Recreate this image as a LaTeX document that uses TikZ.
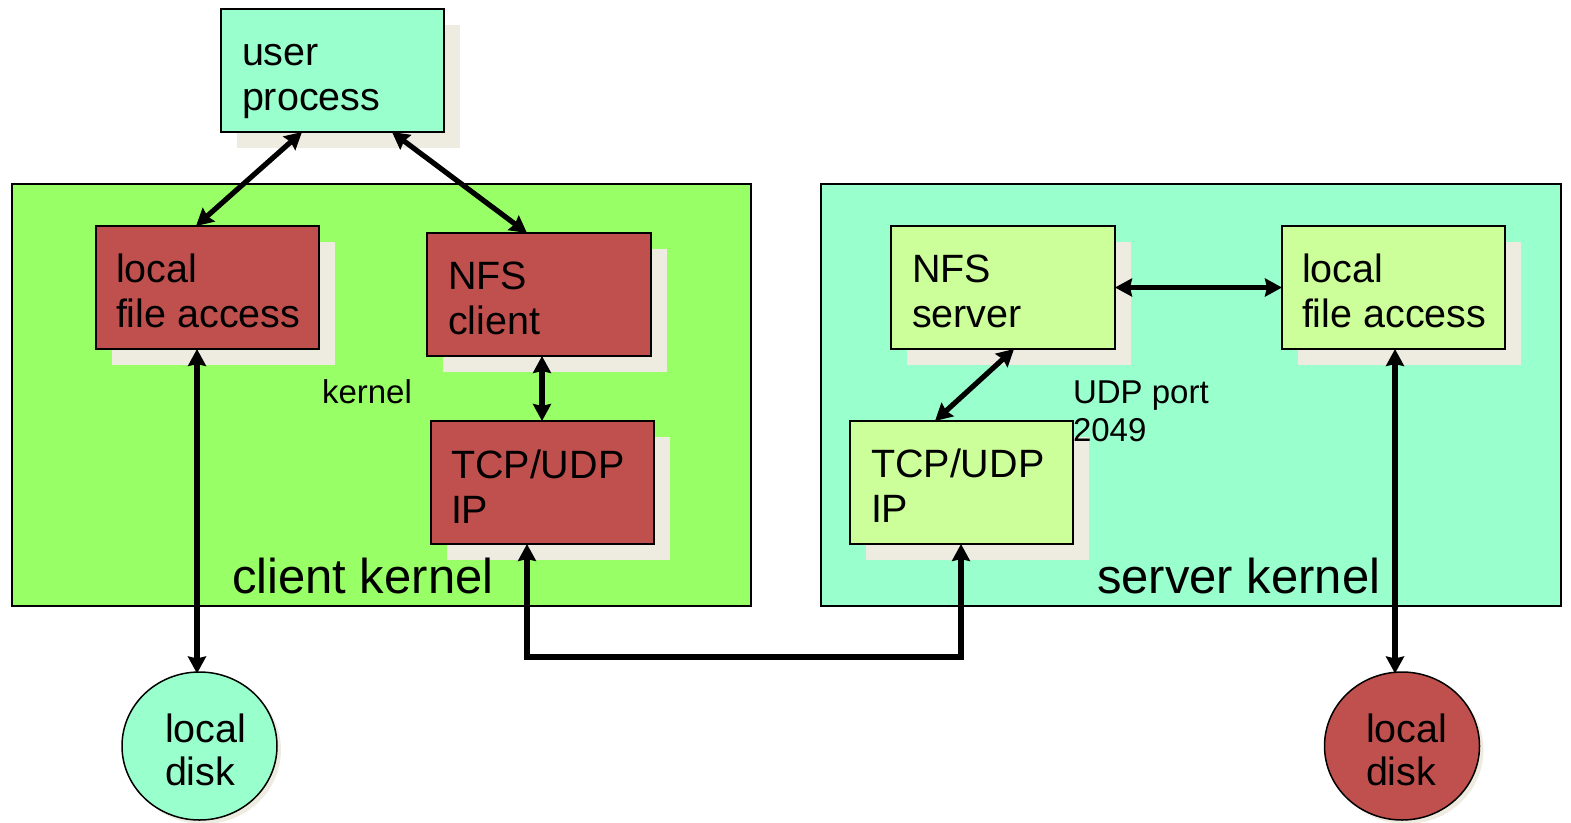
\documentclass[tikz,border=0pt]{standalone}
\usepackage{fontspec}
\setmainfont{Liberation Sans}
\usetikzlibrary{arrows.meta,shadows,calc,shapes.geometric}
\definecolor{shadowc}{HTML}{EEECE1}
\definecolor{aqua}{HTML}{99FFCC}
\definecolor{lime}{HTML}{99FF66}
\definecolor{brick}{HTML}{C0504D}
\definecolor{pale}{HTML}{CCFF99}
\begin{document}
\begin{tikzpicture}[x=1pt,y=-1pt,
  box/.style={draw=black, line width=1.8pt, inner sep=0pt, outer sep=0pt, anchor=north west,
    minimum width=223pt, minimum height=123pt,
    general shadow={shadow xshift=16pt, shadow yshift=-16pt, fill=shadowc}},
  kbox/.style={draw=black, line width=1.8pt, inner sep=0pt, outer sep=0pt, anchor=north west,
    minimum width=739pt, minimum height=422pt},
  disk/.style={ellipse, draw=black, line width=1.5pt, inner sep=0pt, outer sep=0pt,
    minimum width=155pt, minimum height=148pt,
    general shadow={shadow xshift=4pt, shadow yshift=-4pt, fill=shadowc}},
  lbl/.style={anchor=base west, inner sep=0pt, outer sep=0pt, font=\fontsize{39.5}{45}\selectfont},
  small/.style={anchor=base west, inner sep=0pt, outer sep=0pt, font=\fontsize{33}{38}\selectfont},
  big/.style={anchor=base west, inner sep=0pt, outer sep=0pt, font=\fontsize{49}{56}\selectfont},
  arr/.style={line width=5.2pt, {Stealth[length=17pt,width=18pt,inset=2pt]}-{Stealth[length=17pt,width=18pt,inset=2pt]}},
]
\useasboundingbox (0,0) rectangle (1571,822);
% kernels
\node[kbox, fill=lime] (ck) at (12,184) {};
\node[kbox, fill=aqua, minimum width=740pt] (sk) at (821,184) {};
% boxes
\node[box, fill=aqua] (up) at (221,9) {};
\node[box, fill=brick] (clfa) at (96,226) {};
\node[box, fill=brick, minimum width=224pt] (nfsc) at (427,233) {};
\node[box, fill=brick] (ctcp) at (431,421) {};
\node[box, fill=pale, minimum width=224pt] (nfss) at (891,226) {};
\node[box, fill=pale] (slfa) at (1282,226) {};
\node[box, fill=pale] (stcp) at (850,421) {};
% disks
\node[disk, fill=aqua] (cdisk) at (199.5,746) {};
\node[disk, fill=brick] (sdisk) at (1402,746) {};
% arrows
\draw[arr] ($(up.south west)+(81,0)$) -- ($(clfa.north west)+(100,0)$);
\draw[arr] ($(up.south west)+(171,0)$) -- ($(nfsc.north west)+(100,0)$);
\draw[arr] ($(nfsc.south west)+(115,0)$) -- ($(ctcp.north west)+(111,0)$);
\draw[arr] ($(clfa.south west)+(101,0)$) -- ($(cdisk.north)+(-2.5,1.5)$);
\draw[arr] ($(ctcp.south west)+(96,0)$) -- ++(0,113) -| ($(stcp.south west)+(111,0)$);
\draw[arr] ($(nfss.south west)+(123,0)$) -- ($(stcp.north west)+(85,0)$);
\draw[arr] (nfss.east) -- (slfa.west);
\draw[arr] ($(slfa.south west)+(113,0)$) -- ($(sdisk.north)+(-7,1.5)$);
% texts
\node[lbl] (tup1) at (242,65) {user};
\node[lbl] (tup2) at (242,110) {process};
\node[lbl] (tcl1) at (116,282) {local};
\node[lbl] (tcl2) at (116,327) {file access};
\node[lbl] (tnc1) at (448,289) {NFS};
\node[lbl] (tnc2) at (448,334) {client};
\node[lbl] (ttc1) at (451,478) {TCP/UDP};
\node[lbl] (ttc2) at (451,523) {IP};
\node[lbl] (tns1) at (912,282) {NFS};
\node[lbl] (tns2) at (912,327) {server};
\node[lbl] (tsl1) at (1302,282) {local};
\node[lbl] (tsl2) at (1302,327) {file access};
\node[lbl] (tst1) at (871,477) {TCP/UDP};
\node[lbl] (tst2) at (871,522) {IP};
\node[lbl] (tcd1) at (165,742) {local};
\node[lbl] (tcd2) at (165,785) {disk};
\node[lbl] (tsd1) at (1366,742) {local};
\node[lbl] (tsd2) at (1366,785) {disk};
\node[small] (tk) at (322,403) {kernel};
\node[small] (tudp1) at (1073,403) {UDP port};
\node[small] (tudp2) at (1073,441) {2049};
\node[big] (tck) at (232,593) {client kernel};
\node[big] (tsk) at (1097,593) {server kernel};
\end{tikzpicture}
\end{document}
